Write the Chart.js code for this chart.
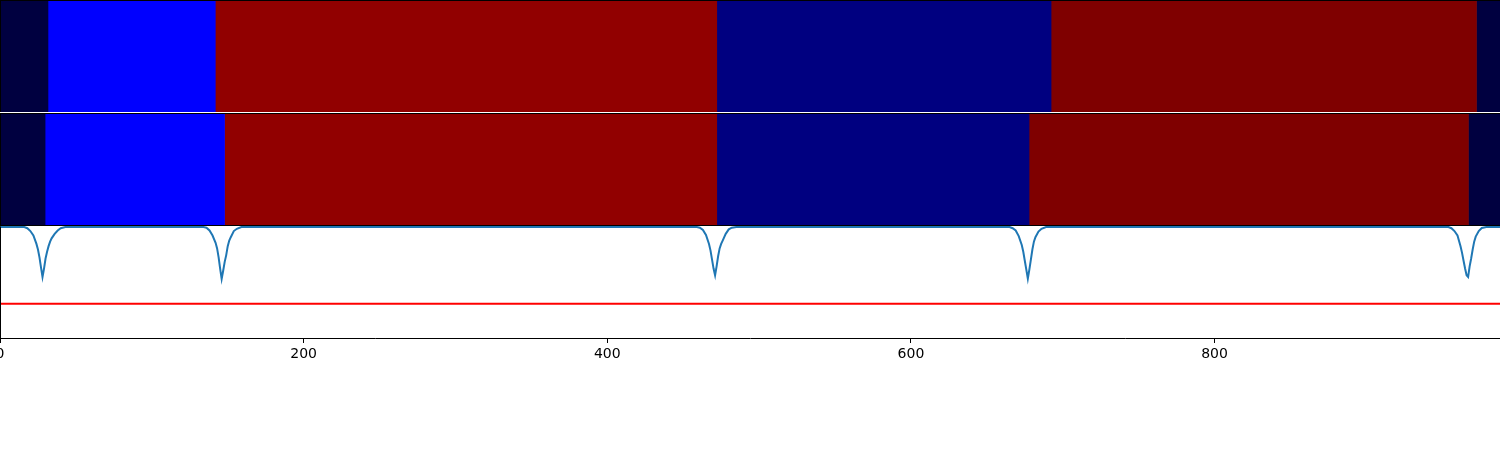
<!DOCTYPE html>
<html>
<head>
<meta charset="utf-8">
<script src="https://cdn.jsdelivr.net/npm/chart.js@4.4.1/dist/chart.umd.min.js"></script>
<style>
  body { margin: 0; background: #fff; }
  #wrap { position: relative; width: 1500px; height: 450px; }
  .panel { position: absolute; left: 0; width: 1500px; }
</style>
</head>
<body>
<div id="wrap">
  <div class="panel" style="top:0;height:112px"><canvas id="segTop"></canvas></div>
  <div class="panel" style="top:113px;height:113px"><canvas id="segBottom"></canvas></div>
  <div class="panel" style="top:226px;height:152px"><canvas id="signal"></canvas></div>
</div>
<script>
// x range of the recording
const xMax = 988;
const xTicks = [0, 200, 400, 600, 800];

// segment boundaries and class of each segment
const topBounds = [0, 31.6, 141.8, 472.1, 692.3, 972.5, 988];
const topClasses = [0, 1, 3, 2, 4, 0];
const bottomBounds = [0, 29.7, 147.9, 472.1, 677.8, 967.2, 988];
const bottomClasses = [0, 1, 3, 2, 4, 0];

const classColors = ["#000040", "#0000ff", "#000080", "#910000", "#7f0000"];

// signal trace
const signalX = [
  0, 16, 18, 20, 22, 24, 25, 26, 27, 28, 29, 30, 31, 32, 33, 34, 36, 38, 40, 43,
  134, 136, 138, 140, 142, 143, 144, 145, 146, 147, 148, 149, 150, 151, 152, 154, 156, 159,
  459, 461, 463, 465, 467, 468, 469, 470, 471, 472, 473, 474, 475, 476, 478, 480, 482, 485,
  665, 667, 669, 671, 673, 674, 675, 676, 677, 678, 679, 680, 681, 682, 684, 686, 689,
  954, 956, 958, 960, 962, 963, 964, 965, 966, 967, 968, 969, 970, 971, 972, 974, 976, 979, 988
];
const signalY = [
  0.99, 0.99, 0.98, 0.955, 0.915, 0.84, 0.79, 0.72, 0.63, 0.545, 0.62, 0.71, 0.77, 0.82, 0.86, 0.89, 0.93, 0.96, 0.98, 0.99,
  0.99, 0.985, 0.96, 0.915, 0.85, 0.80, 0.72, 0.62, 0.527, 0.60, 0.68, 0.74, 0.82, 0.87, 0.90, 0.955, 0.975, 0.99,
  0.99, 0.985, 0.965, 0.92, 0.84, 0.78, 0.70, 0.62, 0.56, 0.64, 0.73, 0.80, 0.84, 0.87, 0.93, 0.97, 0.985, 0.99,
  0.99, 0.98, 0.96, 0.91, 0.83, 0.77, 0.69, 0.61, 0.53, 0.61, 0.70, 0.79, 0.86, 0.90, 0.95, 0.975, 0.99,
  0.99, 0.98, 0.955, 0.915, 0.82, 0.76, 0.69, 0.62, 0.56, 0.545, 0.64, 0.71, 0.79, 0.86, 0.905, 0.955, 0.982, 0.99, 0.99
];
const threshold = 0.305;

// black spines round the plot area
const frame = {
  id: "frame",
  afterDraw(chart, args, opts) {
    const { ctx, chartArea: { top, bottom, left, right } } = chart;
    ctx.save();
    ctx.strokeStyle = "#000";
    ctx.lineWidth = 1;
    ctx.beginPath();
    ctx.moveTo(left + 0.5, bottom);
    ctx.lineTo(left + 0.5, top + 0.5);
    if (opts.top) { ctx.moveTo(left, top + 0.5); ctx.lineTo(right, top + 0.5); }
    if (opts.bottom) { ctx.moveTo(left, bottom - 0.5); ctx.lineTo(right, bottom - 0.5); }
    ctx.stroke();
    ctx.restore();
  },
};

function segmentChart(id, bounds, classes, frameOpts) {
  const datasets = classes.map((c, i) => ({
    data: [[bounds[i], bounds[i + 1]]],
    backgroundColor: classColors[c],
    borderWidth: 0,
    borderSkipped: false,
    barPercentage: 1,
    categoryPercentage: 1,
    grouped: false,
  }));
  return new Chart(document.getElementById(id), {
    type: "bar",
    data: { labels: ["seg"], datasets },
    options: {
      indexAxis: "y",
      responsive: true,
      maintainAspectRatio: false,
      animation: false,
      layout: { padding: 0 },
      plugins: { legend: { display: false }, tooltip: { enabled: false }, frame: frameOpts },
      scales: {
        x: { type: "linear", min: 0, max: xMax, display: false },
        y: { display: false },
      },
    },
    plugins: [frame],
  });
}

segmentChart("segTop", topBounds, topClasses, { top: true, bottom: false });
segmentChart("segBottom", bottomBounds, bottomClasses, { top: true, bottom: true });

new Chart(document.getElementById("signal"), {
  type: "line",
  data: {
    datasets: [
      {
        data: signalX.map((x, i) => ({ x, y: signalY[i] })),
        borderColor: "#1f77b4",
        borderWidth: 2,
        pointRadius: 0,
        tension: 0,
      },
      {
        data: [{ x: 0, y: threshold }, { x: xMax, y: threshold }],
        borderColor: "#ff0000",
        borderWidth: 2,
        pointRadius: 0,
      },
    ],
  },
  options: {
    responsive: true,
    maintainAspectRatio: false,
    animation: false,
    layout: { padding: 0 },
    plugins: { legend: { display: false }, tooltip: { enabled: false }, frame: { top: false, bottom: false } },
    scales: {
      x: {
        type: "linear",
        min: 0,
        max: xMax,
        afterBuildTicks(scale) { scale.ticks = xTicks.map(v => ({ value: v })); },
        afterFit(scale) { scale.paddingLeft = 0; scale.paddingRight = 0; scale.height = 40; },
        ticks: { color: "#000", padding: 3, maxRotation: 0, autoSkip: false, font: { family: "DejaVu Sans", size: 14 } },
        grid: { drawOnChartArea: false, tickLength: 5, tickColor: "#000" },
        border: { color: "#000", width: 1 },
      },
      y: { min: 0, max: 1, display: false },
    },
  },
  plugins: [frame],
});
</script>
</body>
</html>
